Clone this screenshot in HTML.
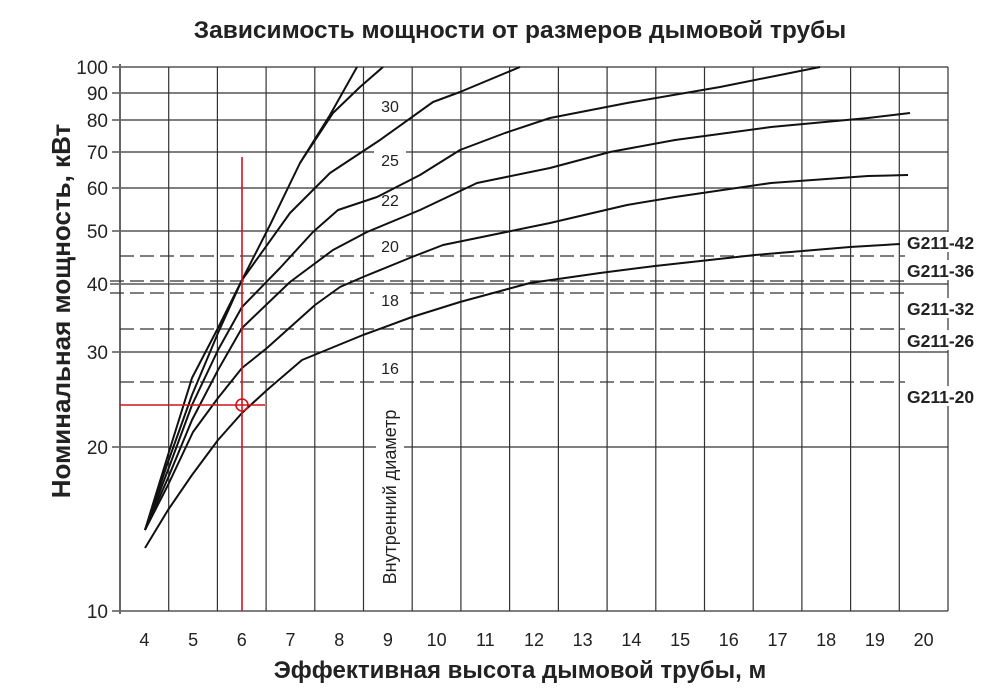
<!DOCTYPE html>
<html><head><meta charset="utf-8"><style>
html,body{margin:0;padding:0;background:#fff;}
svg{display:block;font-family:"Liberation Sans",Arial,sans-serif;}
</style></head><body>
<svg width="1000" height="688" viewBox="0 0 1000 688" xmlns="http://www.w3.org/2000/svg">
<rect width="1000" height="688" fill="#fff"/>
<text x="520" y="38" font-size="24.5" font-weight="bold" text-anchor="middle" fill="#222">Зависимость мощности от размеров дымовой трубы</text>
<g stroke="#333" stroke-width="1.2" fill="none">
<line x1="112" y1="67" x2="948" y2="67"/>
<line x1="112" y1="93" x2="948" y2="93"/>
<line x1="112" y1="120" x2="948" y2="120"/>
<line x1="112" y1="152" x2="948" y2="152"/>
<line x1="112" y1="188" x2="948" y2="188"/>
<line x1="112" y1="231" x2="948" y2="231"/>
<line x1="110" y1="284" x2="948" y2="284"/>
<line x1="112" y1="352" x2="948" y2="352"/>
<line x1="112" y1="447" x2="948" y2="447"/>
<line x1="112" y1="611" x2="948" y2="611"/>
<line x1="168.7" y1="67" x2="168.7" y2="611"/>
<line x1="217.4" y1="67" x2="217.4" y2="611"/>
<line x1="266.1" y1="67" x2="266.1" y2="611"/>
<line x1="314.8" y1="67" x2="314.8" y2="611"/>
<line x1="363.5" y1="67" x2="363.5" y2="611"/>
<line x1="412.2" y1="67" x2="412.2" y2="611"/>
<line x1="460.9" y1="67" x2="460.9" y2="611"/>
<line x1="509.6" y1="67" x2="509.6" y2="611"/>
<line x1="558.4" y1="67" x2="558.4" y2="611"/>
<line x1="607.1" y1="67" x2="607.1" y2="611"/>
<line x1="655.8" y1="67" x2="655.8" y2="611"/>
<line x1="704.5" y1="67" x2="704.5" y2="611"/>
<line x1="753.2" y1="67" x2="753.2" y2="611"/>
<line x1="801.9" y1="67" x2="801.9" y2="611"/>
<line x1="850.6" y1="67" x2="850.6" y2="611"/>
<line x1="899.3" y1="67" x2="899.3" y2="611"/>
<line x1="948" y1="67" x2="948" y2="611"/>
</g>
<line x1="120" y1="64" x2="120" y2="614" stroke="#666" stroke-width="2"/>
<g stroke="#333" stroke-width="1.2" stroke-dasharray="14,6" fill="none">
<line x1="120" y1="256" x2="905" y2="256"/>
<line x1="110" y1="281" x2="905" y2="281"/>
<line x1="110" y1="293" x2="905" y2="293"/>
<line x1="120" y1="329" x2="905" y2="329"/>
<line x1="120" y1="382" x2="905" y2="382"/>
</g>
<g fill="#fff">
<rect x="904" y="232" width="90" height="20"/>
<rect x="904" y="260" width="90" height="20"/>
<rect x="904" y="298" width="90" height="20"/>
<rect x="904" y="330" width="90" height="20"/>
<rect x="904" y="386" width="90" height="20"/>
<rect x="374" y="95" width="32" height="22"/>
<rect x="374" y="149" width="32" height="22"/>
<rect x="374" y="189" width="32" height="22"/>
<rect x="374" y="235" width="32" height="22"/>
<rect x="374" y="289" width="32" height="22"/>
<rect x="374" y="357" width="32" height="22"/>
<rect x="376" y="398" width="28" height="198"/>
</g>
<g stroke="#111" stroke-width="2" fill="none" stroke-linejoin="round">
<polyline points="145,548 168,510 192,475 218,440 242,413 267,390 302,360 363,335 412,317 460,302 530,283 600,273 655,266 755,255 850,247 900,244"/>
<polyline points="145,530 168,485 193,432 218,398 242,368 267,348 315,305 340,287 363,277 412,257 443,245 482,237 550,223 627,205 675,197 771,183 868,176 908,175"/>
<polyline points="145,530 168,478 192,420 218,370 242,328 290,282 333,250 367,232 420,210 477,183 550,168 610,152 675,140 771,127 868,118 910,113"/>
<polyline points="145,530 168,470 192,405 218,350 242,307 280,268 313,232 338,210 377,197 420,175 460,150 505,133 550,118 627,103 720,87 820,67"/>
<polyline points="145,530 168,462 192,395 218,333 242,280 290,213 330,173 380,140 433,102 460,92 520,67"/>
<polyline points="145,530 168,455 192,378 218,328 242,280 270,225 300,163 330,115 357,67"/>
<polyline points="300,163 333,113 360,87 383,67"/>
</g>
<g stroke="#d0141a" stroke-width="1.6" fill="none">
<line x1="242" y1="157" x2="242" y2="611"/>
<line x1="120" y1="405" x2="265" y2="405"/>
<circle cx="242" cy="405" r="6"/>
</g>
<g font-size="16" fill="#222" text-anchor="middle">
<text x="390" y="112">30</text>
<text x="390" y="166">25</text>
<text x="390" y="206">22</text>
<text x="390" y="252">20</text>
<text x="390" y="306">18</text>
<text x="390" y="374">16</text>
<text transform="translate(396,497) rotate(-90)" font-size="18">Внутренний диаметр</text>
</g>
<g font-size="17.5" font-weight="bold" fill="#222">
<text x="907" y="249">G211-42</text>
<text x="907" y="277">G211-36</text>
<text x="907" y="315">G211-32</text>
<text x="907" y="347">G211-26</text>
<text x="907" y="403">G211-20</text>
</g>
<g font-size="19" fill="#222" text-anchor="end">
<text x="108" y="74">100</text>
<text x="108" y="100">90</text>
<text x="108" y="127">80</text>
<text x="108" y="159">70</text>
<text x="108" y="195">60</text>
<text x="108" y="238">50</text>
<text x="108" y="291">40</text>
<text x="108" y="359">30</text>
<text x="108" y="454">20</text>
<text x="108" y="618">10</text>
</g>
<g font-size="18" fill="#222" text-anchor="middle">
<text x="144.4" y="646">4</text><text x="193.1" y="646">5</text><text x="241.8" y="646">6</text><text x="290.5" y="646">7</text><text x="339.2" y="646">8</text><text x="387.9" y="646">9</text><text x="436.6" y="646">10</text><text x="485.3" y="646">11</text><text x="534" y="646">12</text><text x="582.7" y="646">13</text><text x="631.4" y="646">14</text><text x="680.1" y="646">15</text><text x="728.8" y="646">16</text><text x="777.5" y="646">17</text><text x="826.2" y="646">18</text><text x="874.9" y="646">19</text><text x="923.6" y="646">20</text>
</g>
<text x="520" y="678" font-size="24" font-weight="bold" text-anchor="middle" fill="#222">Эффективная высота дымовой трубы, м</text>
<text transform="translate(70,311) rotate(-90)" font-size="26" font-weight="bold" text-anchor="middle" fill="#222">Номинальная мощность, кВт</text>
</svg>
</body></html>
